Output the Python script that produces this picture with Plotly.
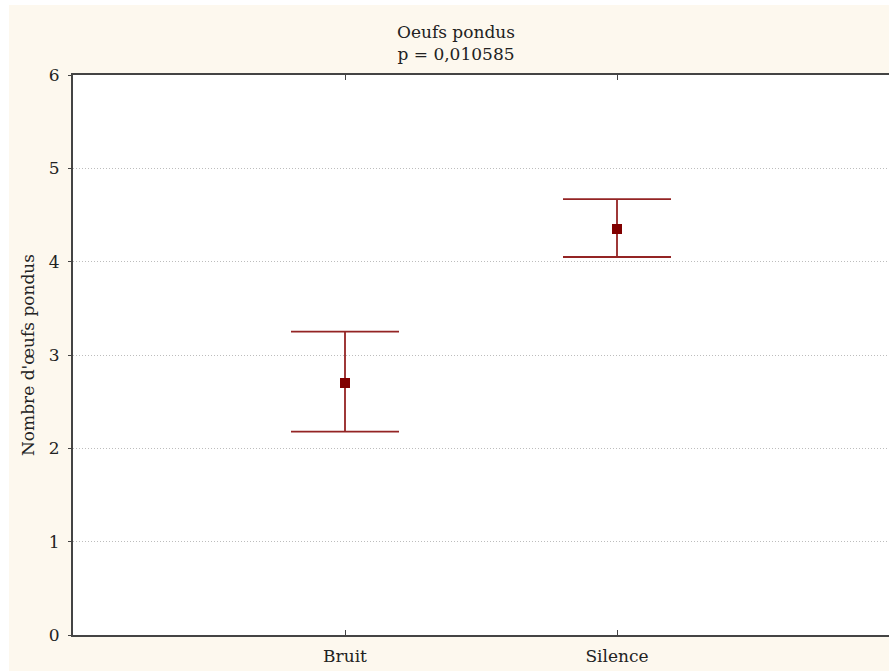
import plotly.graph_objects as go

# Mean number of eggs laid per condition, with error-bar bounds
categories = ["Bruit", "Silence"]
means = [2.70, 4.35]
upper = [3.25, 4.67]
lower = [2.18, 4.05]
y_ticks = [0, 1, 2, 3, 4, 5, 6]

x_pos = [1, 2]
err_plus = [u - m for u, m in zip(upper, means)]
err_minus = [m - l for m, l in zip(means, lower)]

W, H = 889, 671
ML, MR, MT, MB = 73, 0, 75, 36

font_family = "DejaVu Serif, Liberation Serif, serif"
cream = "#fdf8ee"
axis_col = "#444444"

fig = go.Figure()
fig.add_trace(go.Scatter(
    x=x_pos, y=means, mode="markers",
    marker=dict(symbol="square", size=10, color="#800000"),
    error_y=dict(type="data", symmetric=False, array=err_plus, arrayminus=err_minus,
                 color="#942424", thickness=1.8, width=54),
    showlegend=False,
))

pw = W - ML - MR
ph = H - MT - MB
fig.update_layout(
    width=W, height=H,
    margin=dict(l=ML, r=MR, t=MT, b=MB, autoexpand=False),
    paper_bgcolor=cream, plot_bgcolor="white",
    font=dict(family=font_family, size=17, color="#222222"),
    title=dict(text="Oeufs pondus<br>p = 0,010585", x=456 / W, xanchor="center",
               y=1 - 38 / H, yanchor="middle", font=dict(size=17)),
    shapes=[
        # white frame strips around the cream panel
        dict(type="rect", xref="paper", yref="paper", layer="above",
             x0=-ML / pw - 0.01, x1=(9 - ML) / pw,
             y0=-1, y1=2, fillcolor="white", line=dict(width=0)),
        dict(type="rect", xref="paper", yref="paper", layer="above",
             x0=-1, x1=2, y0=1 + (MT - 5) / ph, y1=1 + MT / ph + 0.01,
             fillcolor="white", line=dict(width=0)),
    ],
)

fig.update_xaxes(
    range=[0, 3], tickvals=x_pos, ticktext=categories,
    showgrid=False, zeroline=False, automargin=False,
    showline=True, linecolor=axis_col, linewidth=2, mirror="ticks",
    ticks="inside", ticklen=5, tickcolor=axis_col, tickwidth=1,
    tickfont=dict(size=17), ticklabelstandoff=5,
)
fig.update_yaxes(
    range=[0, 6], tickvals=y_ticks,
    showgrid=True, gridcolor="#bdbdbd", griddash="1px,2px", gridwidth=1,
    zeroline=False, automargin=False,
    showline=True, linecolor=axis_col, linewidth=2, mirror="ticks",
    ticks="outside", ticklen=3, tickcolor=axis_col,
    tickfont=dict(size=17), ticklabelstandoff=5,
    title=dict(text="Nombre d'œufs pondus", font=dict(size=17), standoff=10),
)

fig.write_html("out.html")
